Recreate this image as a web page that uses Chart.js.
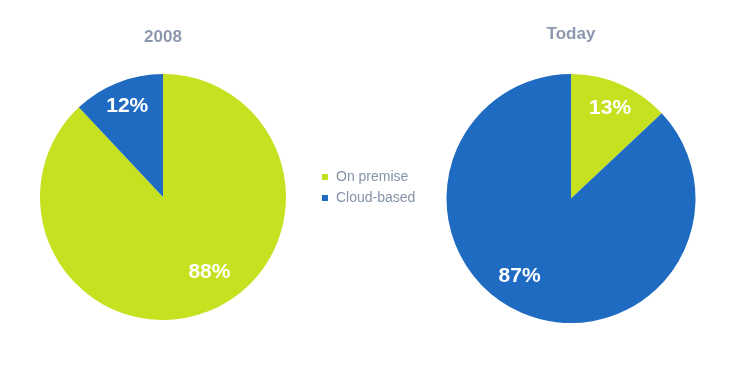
<!DOCTYPE html>
<html>
<head>
<meta charset="utf-8">
<script src="https://cdn.jsdelivr.net/npm/chart.js@4.4.1/dist/chart.umd.min.js"></script>
<style>
  html, body { margin: 0; padding: 0; background: #fff; }
  body { width: 733px; height: 371px; position: relative; overflow: hidden; font-family: "Liberation Sans", Arial, sans-serif; }
  canvas { position: absolute; top: 0; }
  #legend { position: absolute; left: 322px; top: 166px; font-size: 14px; color: #8593a8; line-height: 21px; }
  #legend span.sw { display: inline-block; width: 6px; height: 6px; margin-right: 8px; vertical-align: 1px; }
</style>
</head>
<body>
<canvas id="pie2008"></canvas>
<canvas id="pieToday"></canvas>
<div id="legend"></div>
<script>
const categories = ['On premise', 'Cloud-based'];
const values2008 = [88, 12];
const valuesToday = [13, 87];
const titles = ['2008', 'Today'];
const colors = ['#c5e11f', '#1f6bc2'];

// percent labels inside slices
const sliceLabels = {
    id: 'sliceLabels',
    afterDatasetsDraw(chart, args, opts) {
        const ctx = chart.ctx;
        const meta = chart.getDatasetMeta(0);
        const data = chart.data.datasets[0].data;
        ctx.save();
        ctx.fillStyle = '#fff';
        ctx.font = 'bold 21px "Liberation Sans", Arial, sans-serif';
        ctx.textAlign = 'center';
        ctx.textBaseline = 'middle';
        meta.data.forEach((arc, i) => {
            const shift = (opts.shift && opts.shift[i] || 0) * Math.PI / 180;
            const mid = (arc.startAngle + arc.endAngle) / 2 + shift;
            const r = arc.outerRadius * (opts.dist && opts.dist[i] || 0.79);
            ctx.fillText(data[i] + '%', arc.x + Math.cos(mid) * r, arc.y + Math.sin(mid) * r);
        });
        ctx.restore();
    }
};

function makePie(id, left, values, title, titlePad, bottomPad, labelOpts) {
    const el = document.getElementById(id);
    el.width = 326;
    el.height = 371;
    el.style.left = left + 'px';
    return new Chart(el, {
        type: 'pie',
        data: {
            labels: categories,
            datasets: [{ data: values, backgroundColor: colors, borderWidth: 0 }]
        },
        options: {
            responsive: false,
            animation: false,
            layout: { padding: { bottom: bottomPad } },
            plugins: {
                legend: { display: false },
                tooltip: { enabled: false },
                title: {
                    display: true,
                    text: title,
                    color: '#8c98ad',
                    font: { family: '"Liberation Sans", Arial, sans-serif', size: 17, weight: 'bold' },
                    padding: titlePad
                },
                sliceLabels: labelOpts
            }
        },
        plugins: [sliceLabels]
    });
}

makePie('pie2008', 0, values2008, titles[0], { top: 26.8, bottom: 26.8 }, 51, { shift: [-10, 0], dist: [0.72, 0.79] });
makePie('pieToday', 408, valuesToday, titles[1], { top: 23.8, bottom: 29.8 }, 48, { shift: [0, 10], dist: [0.79, 0.75] });

const legend = document.getElementById('legend');
legend.innerHTML = categories.map((c, i) =>
    `<div><span class="sw" style="background:${colors[i]}"></span>${c}</div>`).join('');
</script>
</body>
</html>
